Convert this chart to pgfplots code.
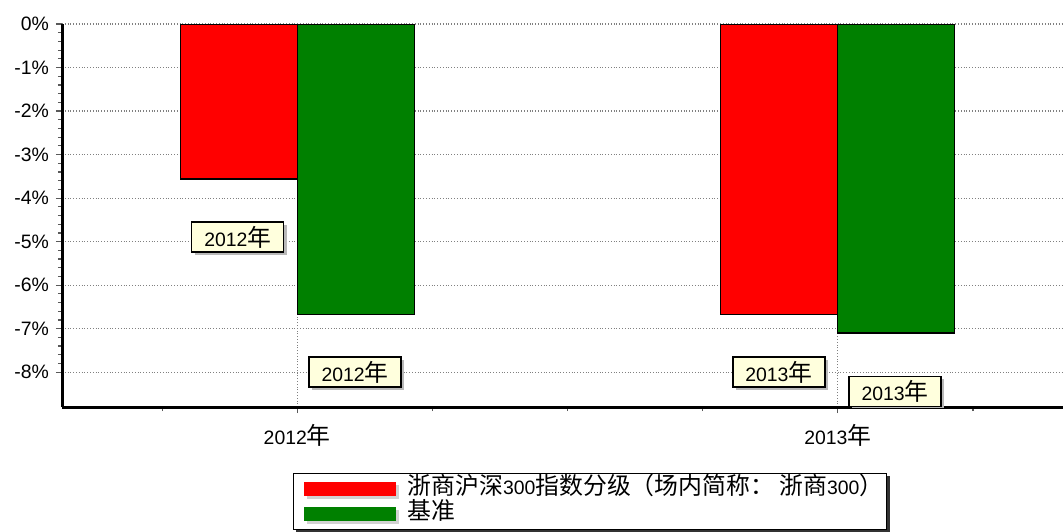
\documentclass[border=0pt]{standalone}
\usepackage{pgfplots}
\pgfplotsset{compat=1.18}
\usepackage{fontspec}
\setmainfont{Liberation Sans}
\newfontfamily\cjk[Scale=1.23]{Noto Sans CJK SC}
\usetikzlibrary{shadows}
\pgfdeclarelayer{background}
\pgfsetlayers{background,main}
\definecolor{lblfill}{RGB}{255,255,221}
\definecolor{barred}{RGB}{255,0,0}
\definecolor{bargreen}{RGB}{0,128,0}

\begin{document}
\begin{tikzpicture}[font=\fontsize{9.7pt}{11pt}\selectfont,
  lbl/.style={draw=black, line width=0.7pt, fill=lblfill, minimum width=46pt, minimum height=15pt, inner sep=1pt,
    drop shadow={shadow xshift=1.5pt, shadow yshift=-1.5pt, fill=gray!55, opacity=1}}]
\useasboundingbox (-31pt,-62pt) rectangle (500.5pt,203.5pt);
\begin{axis}[
  scale only axis, width=500.5pt, height=191.5pt,
  at={(0pt,0pt)}, anchor=south west,
  xmin=-0.4352, xmax=1.4167, ymin=-8.8, ymax=0,
  axis x line=bottom, axis y line=left,
  axis line style={-, line width=1.5pt, black},
  ybar=0pt, bar width=58.5pt,
  xtick={0,1}, xticklabels={2012{\cjk 年},2013{\cjk 年}},
  minor xtick={-0.25,0.25,0.5,0.75,1.25},
  ytick={-8,-7,-6,-5,-4,-3,-2,-1,0},
  yticklabels={-8\%,-7\%,-6\%,-5\%,-4\%,-3\%,-2\%,-1\%,0\%},
  minor y tick num=4,
  ymajorgrids, xmajorgrids,
  major grid style={densely dotted, gray, line width=0.6pt},
  tick style={gray!70!black, line width=0.6pt},
  major tick length=3pt, minor tick length=2pt,
  tick align=outside,
  xticklabel style={yshift=-2pt},
  legend style={name=leg, at={(0.2308,-0.1723)}, anchor=north west, draw=black, line width=0.6pt,
    fill=white, inner xsep=0pt, inner ysep=1.5pt, row sep=0pt,
    nodes={inner sep=1.5pt, text height=7.5pt, text depth=2pt}},
  legend cell align=left,
  legend image code/.code={%
    \path[draw=none, fill=none] (0pt,0pt) -- (55.5pt,0pt);
    \path[draw=none, fill=gray!35] (6.5pt,-5pt) rectangle (52.5pt,2pt);
    \path[#1, draw=none] (5pt,-3.5pt) rectangle (51pt,3.5pt);},
]
\addplot[fill=barred, draw=black, line width=0.7pt] coordinates {(0,-3.56) (1,-6.67)};
\addplot[fill=bargreen, draw=black, line width=0.7pt] coordinates {(0,-6.67) (1,-7.10)};
\legend{{\cjk 浙商沪深}300{\cjk 指数分级（场内简称： 浙商}300{\cjk ）},{\cjk 基准}}
\node[lbl] at (axis cs:-0.110,-4.897) {2012{\cjk 年}};
\node[lbl] at (axis cs:0.107,-8.0) {2012{\cjk 年}};
\node[lbl] at (axis cs:0.891,-8.0) {2013{\cjk 年}};
\node[lbl] at (axis cs:1.106,-8.44) {2013{\cjk 年}};
\end{axis}
\begin{pgfonlayer}{background}
\fill[black!80] ([shift={(1.5pt,-1.5pt)}]leg.south west) rectangle ([shift={(1.5pt,-1.5pt)}]leg.north east);
\end{pgfonlayer}
\end{tikzpicture}
\end{document}
